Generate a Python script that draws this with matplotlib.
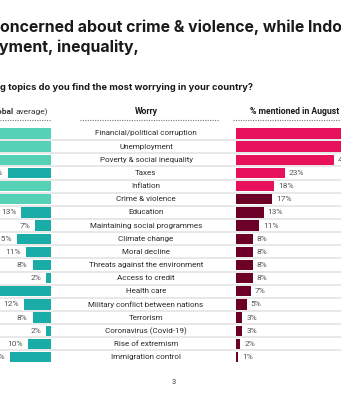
import matplotlib
matplotlib.use("Agg")
import matplotlib.pyplot as plt

# Worries and shares (%)
worries = [
    "Financial/political corruption", "Unemployment", "Poverty & social inequality",
    "Taxes", "Inflation", "Crime & violence", "Education",
    "Maintaining social programmes", "Climate change", "Moral decline",
    "Threats against the environment", "Access to credit", "Health care",
    "Military conflict between nations", "Terrorism", "Coronavirus (Covid-19)",
    "Rise of extremism", "Immigration control",
]
global_avg = [27, 28, 31, 19, 38, 30, 13, 7, 15, 11, 8, 2, 24, 12, 8, 2, 10, 18]
country_aug = [58, 54, 46, 23, 18, 17, 13, 11, 8, 8, 8, 8, 7, 5, 3, 3, 2, 1]
global_top5 = [True, True, True, False, True, True] + [False] * 12

W, H = 341, 400
fig = plt.figure(figsize=(W / 100, H / 100), dpi=100)

bg = fig.add_axes([0, 0, 1, 1])
bg.set_xlim(0, W)
bg.set_ylim(H, 0)
bg.axis("off")

n = len(worries)
row0, dy = 133.5, 13.15
top_px = row0 - dy / 2
bot_px = row0 + (n - 0.5) * dy

BODY = "Roboto"
TITLE = "Inter"

# Title and question
bg.text(0, 27, "oncerned about crime & violence, while Indonesians", fontsize=11.4,
        fontweight="bold", family=TITLE, color="#1a1a1a", va="center", ha="left")
bg.text(-1, 47, "yment, inequality,", fontsize=11.4,
        fontweight="bold", family=TITLE, color="#1a1a1a", va="center", ha="left")
bg.text(0, 88, "g topics do you find the most worrying in your country?", fontsize=6.7,
        fontweight="bold", family=TITLE, color="#1a1a1a", va="center", ha="left")

# Column headers
hdr_y = 112
t1 = bg.text(48, hdr_y, "average)", fontsize=6.0, family=BODY, color="#333333",
             va="center", ha="right")
bg.annotate("obal ", xy=(0, 0.5), xycoords=t1, fontsize=6.0, family=BODY,
            fontweight="bold", color="#333333", va="center", ha="right")
bg.text(146, hdr_y, "Worry", fontsize=6.2, family=BODY, fontweight="bold",
        color="#1a1a1a", va="center", ha="center")
bg.text(250, hdr_y, "% mentioned in August 2023", fontsize=6.2, family=BODY,
        fontweight="bold", color="#1a1a1a", va="center", ha="left")
for x0, x1 in [(0, 50), (80, 218), (233, W)]:
    bg.plot([x0, x1], [119.5, 119.5], color="#777777", lw=0.8, ls=(0, (1, 1.2)))

# Row separators and worry labels
for i, w in enumerate(worries):
    yc = row0 + i * dy
    bg.text(146, yc, w, fontsize=5.8, family=BODY, color="#2a2a2a",
            va="center", ha="center")
    if i < n - 1:
        bg.plot([0, W], [yc + dy / 2, yc + dy / 2], color="#e2e2e2", lw=1.1)

bg.text(174, 382, "3", fontsize=5.2, family=BODY, color="#333333",
        va="center", ha="center")

# Bar panels
fh = (bot_px - top_px) / H
fb = 1 - bot_px / H
left_w = 50.7
axl = fig.add_axes([0, fb, left_w / W, fh])
right_x = 236
axr = fig.add_axes([right_x / W, fb, (W - right_x) / W, fh])

LIGHT_TEAL, DARK_TEAL = "#55d2b6", "#1aaca7"
CRIMSON, MAROON = "#e8125c", "#6c0027"

ypos = list(range(n))
axl.barh(ypos, global_avg, height=0.79,
         color=[LIGHT_TEAL if t else DARK_TEAL for t in global_top5])
axl.set_xlim(50.7 / 2.25, 0)
axr.barh(ypos, country_aug, height=0.79,
         color=[CRIMSON if i < 5 else MAROON for i in range(n)])
axr.set_xlim(0, (W - right_x) / 2.12)

for ax in (axl, axr):
    ax.set_ylim(n - 0.5, -0.5)
    ax.axis("off")
    ax.patch.set_alpha(0)

for i, v in enumerate(global_avg):
    axl.annotate(f"{v}%", xy=(v, i), xytext=(-3.6, 0), textcoords="offset points",
                 fontsize=6.0, family=BODY, color="#555555", va="center", ha="right",
                 annotation_clip=False)
for i, v in enumerate(country_aug):
    axr.annotate(f"{v}%", xy=(v, i), xytext=(2.8, 0), textcoords="offset points",
                 fontsize=6.0, family=BODY, color="#555555", va="center", ha="left",
                 annotation_clip=False)

fig.savefig("out.png", dpi=100)
